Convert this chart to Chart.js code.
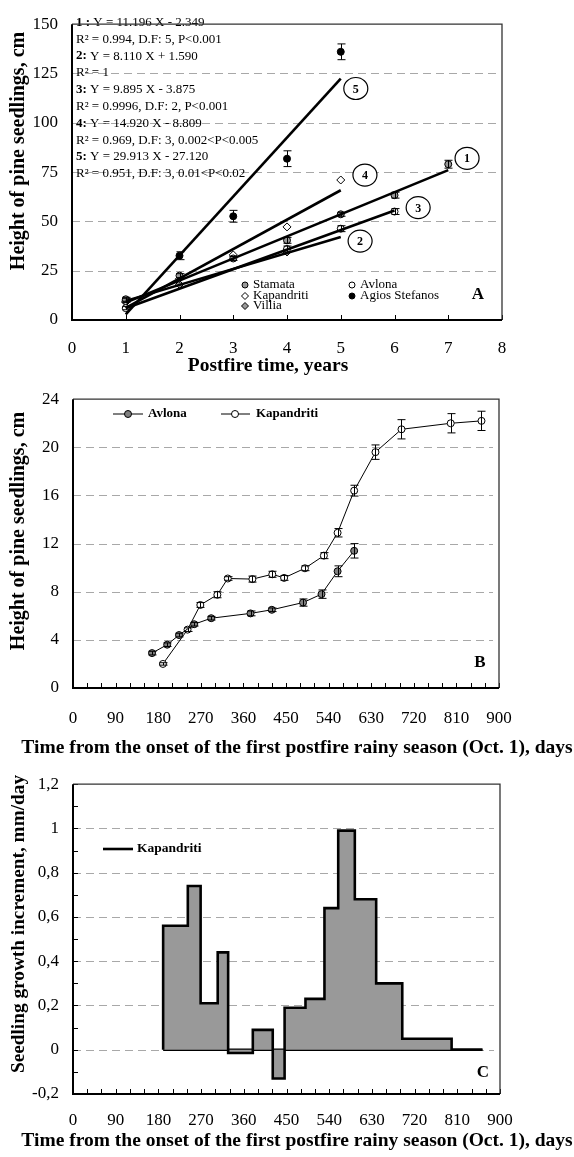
<!DOCTYPE html>
<html>
<head>
<meta charset="utf-8">
<script src="https://cdn.jsdelivr.net/npm/chart.js@4.4.1/dist/chart.umd.min.js"></script>
<style>
  html, body { margin: 0; padding: 0; background: #fff; }
  #wrap { position: relative; width: 574px; height: 1157px; }
  canvas { position: absolute; left: 0; }
</style>
</head>
<body>
<div id="wrap">
  <canvas id="chartA" width="574" height="375" style="top:0"></canvas>
  <canvas id="chartB" width="574" height="385" style="top:375px"></canvas>
  <canvas id="chartC" width="574" height="397" style="top:760px"></canvas>
</div>
<script>
// ---- Panel A: height vs postfire years ----
const yearTicks = [0, 1, 2, 3, 4, 5, 6, 7, 8];
const stamataX = [1, 2, 3, 4, 5, 6, 7];
const stamataY = [10.5, 22.5, 31.2, 40.4, 53.6, 63.3, 79];
const stamataErr = [1, 1, 1, 1.5, 1, 1.5, 2];
const avlonaX = [1, 4, 5, 6];
const avlonaY = [6, 36, 46.3, 55];
const avlonaErr = [0.8, 1.5, 1.5, 1.5];
const kapandritiX = [1, 2, 3, 4, 5];
const kapandritiY = [9.5, 21, 33, 47.2, 71];
const agiosX = [1, 2, 3, 4, 5];
const agiosY = [10, 32.6, 52.6, 81.8, 136];
const agiosErr = [1, 2, 3, 4, 4];
const villiaX = [1, 2, 4];
const villiaY = [9, 18, 34.5];

// regression lines (end points) and their circled labels
const fitIds = ['1', '2', '3', '4', '5'];
const fitX0 = [1, 1, 1, 1, 1];
const fitY0 = [8.8, 9.7, 6.0, 6.1, 2.8];
const fitX1 = [7, 5, 6, 5, 5];
const fitY1 = [76.0, 42.1, 55.5, 65.8, 122.4];
const fitLabelX = [7.35, 5.36, 6.44, 5.45, 5.28];
const fitLabelY = [82, 40, 57, 73.5, 117.4];

const eqBold = ['1 :', '', '2:', '', '3:', '', '4:', '', '5:', ''];
const eqText = [
  ' Y = 11.196 X - 2.349',
  'R\u00b2 = 0.994, D.F: 5, P<0.001',
  ' Y = 8.110 X + 1.590',
  'R\u00b2 = 1',
  ' Y = 9.895 X - 3.875',
  'R\u00b2 = 0.9996, D.F: 2, P<0.001',
  ' Y = 14.920 X - 8.809',
  'R\u00b2 = 0.969, D.F: 3, 0.002<P<0.005',
  ' Y = 29.913 X - 27.120',
  'R\u00b2 = 0.951, D.F: 3, 0.01<P<0.02',
];

// ---- Panel B: height vs days ----
const avlonaDays = [167, 199, 224, 256, 292, 375, 420, 486, 525, 559, 594];
const avlonaH = [2.9, 3.6, 4.4, 5.3, 5.8, 6.2, 6.5, 7.1, 7.8, 9.7, 11.4];
const avlonaHErr = [0.15, 0.15, 0.15, 0.15, 0.15, 0.2, 0.15, 0.3, 0.35, 0.45, 0.6];
const kapDays = [190, 242, 269, 305, 327, 379, 421, 446, 490, 530, 559, 594, 639, 694, 798, 863];
const kapH = [2.0, 4.85, 6.9, 7.75, 9.1, 9.05, 9.45, 9.15, 9.95, 11.0, 12.9, 16.4, 19.6, 21.5, 22.0, 22.2];
const kapHErr = [0.1, 0.15, 0.2, 0.25, 0.15, 0.25, 0.25, 0.2, 0.2, 0.25, 0.35, 0.45, 0.6, 0.8, 0.8, 0.8];

// ---- Panel C: growth increment (step) ----
const incDays = [190, 190, 242, 269, 305, 327, 379, 421, 446, 490, 530, 559, 594, 639, 694, 798, 863];
const incRate = [0, 0.56, 0.74, 0.21, 0.44, -0.015, 0.09, -0.13, 0.19, 0.23, 0.64, 0.99, 0.68, 0.30, 0.05, 0, 0];
const baseDays = [190, 863];
const baseRate = [0, 0];

const SERIF = "'Liberation Serif', 'Times New Roman', serif";
const GRID = '#a8a8a8';

function pts(xs, ys) { return xs.map((x, i) => ({ x, y: ys[i] })); }
function fixSize(size) {
  return (s) => { if (s.isHorizontal()) s.height = size; else s.width = size; };
}
function text(ctx, str, x, y, font, align) {
  ctx.font = font;
  ctx.textAlign = align || 'left';
  ctx.textBaseline = 'middle';
  ctx.fillStyle = '#000';
  ctx.fillText(str, x, y);
}
function vtext(ctx, str, x, y, font) {
  ctx.save();
  ctx.translate(x, y);
  ctx.rotate(-Math.PI / 2);
  text(ctx, str, 0, 0, font, 'center');
  ctx.restore();
}
function marker(ctx, style, x, y, r, fill) {
  ctx.save();
  ctx.beginPath();
  if (style === 'rectRot') {
    ctx.moveTo(x, y - r); ctx.lineTo(x + r, y); ctx.lineTo(x, y + r); ctx.lineTo(x - r, y); ctx.closePath();
  } else {
    ctx.arc(x, y, r, 0, Math.PI * 2);
  }
  ctx.fillStyle = fill; ctx.fill();
  ctx.strokeStyle = '#000'; ctx.lineWidth = 1; ctx.stroke();
  ctx.restore();
}

// dashed grid, box frame, inward tick marks
const framePlugin = {
  id: 'frame',
  beforeDatasetsDraw(chart, args, opts) {
    const { ctx, chartArea: a, scales } = chart;
    ctx.save();
    ctx.strokeStyle = GRID;
    ctx.lineWidth = 1;
    ctx.setLineDash([8, 5]);
    scales.y.ticks.forEach((t) => {
      const k = Math.round(t.value / opts.gridEvery * 1000) / 1000;
      if (Math.abs(k - Math.round(k)) > 1e-6) return;
      if (t.value <= scales.y.min || t.value >= scales.y.max) return;
      const y = Math.round(scales.y.getPixelForValue(t.value)) + 0.5;
      ctx.beginPath(); ctx.moveTo(a.left, y); ctx.lineTo(a.right - 6, y); ctx.stroke();
    });
    ctx.restore();
  },
  afterDatasetsDraw(chart, args, opts) {
    const { ctx, chartArea: a, scales } = chart;
    ctx.save();
    ctx.strokeStyle = '#000';
    ctx.lineWidth = 1;
    scales.x.ticks.forEach((t) => {
      const x = Math.round(scales.x.getPixelForValue(t.value)) + 0.5;
      ctx.beginPath(); ctx.moveTo(x, a.bottom); ctx.lineTo(x, a.bottom - 5); ctx.stroke();
    });
    if (opts.yTicks) {
      scales.y.ticks.forEach((t) => {
        const y = Math.round(scales.y.getPixelForValue(t.value)) + 0.5;
        ctx.beginPath(); ctx.moveTo(a.left, y); ctx.lineTo(a.left + 5, y); ctx.stroke();
      });
    }
    ctx.strokeStyle = '#333';
    ctx.lineWidth = 1.3;
    ctx.beginPath();
    ctx.moveTo(a.left, a.top); ctx.lineTo(a.right, a.top); ctx.lineTo(a.right, a.bottom);
    ctx.stroke();
    ctx.strokeStyle = '#000';
    ctx.lineWidth = 2;
    ctx.beginPath();
    ctx.moveTo(a.left, a.top); ctx.lineTo(a.left, a.bottom); ctx.lineTo(a.right, a.bottom);
    ctx.stroke();
    ctx.restore();
  },
};

// vertical error bars from dataset.errorBars
const errorBarPlugin = {
  id: 'errorBars',
  afterDatasetsDraw(chart) {
    const { ctx, scales } = chart;
    ctx.save();
    ctx.strokeStyle = '#000';
    ctx.lineWidth = 1;
    chart.data.datasets.forEach((ds, i) => {
      if (!ds.errorBars) return;
      const meta = chart.getDatasetMeta(i);
      meta.data.forEach((el, j) => {
        const e = ds.errorBars[j];
        if (!e) return;
        const v = ds.data[j].y;
        const y1 = scales.y.getPixelForValue(v + e);
        const y2 = scales.y.getPixelForValue(v - e);
        const x = Math.round(el.x) + 0.5;
        ctx.beginPath();
        ctx.moveTo(x, y1); ctx.lineTo(x, y2);
        ctx.moveTo(x - 4, y1); ctx.lineTo(x + 4, y1);
        ctx.moveTo(x - 4, y2); ctx.lineTo(x + 4, y2);
        ctx.stroke();
      });
    });
    ctx.restore();
  },
};

function tickFont(size) { return { family: SERIF, size: size }; }
const noGrid = { display: false, drawTicks: false };

// ---------- Chart A ----------
const fitSets = fitIds.map((id, i) => ({
  label: 'fit ' + id,
  data: [{ x: fitX0[i], y: fitY0[i] }, { x: fitX1[i], y: fitY1[i] }],
  showLine: true,
  borderColor: '#000',
  borderWidth: 2.6,
  pointRadius: 0,
  order: 0,
}));

new Chart(document.getElementById('chartA'), {
  type: 'scatter',
  data: {
    datasets: [
      { label: 'Stamata', data: pts(stamataX, stamataY), errorBars: stamataErr,
        pointStyle: 'circle', pointRadius: 3.5, backgroundColor: '#999', borderColor: '#000', borderWidth: 1, order: 1 },
      { label: 'Avlona', data: pts(avlonaX, avlonaY), errorBars: avlonaErr,
        pointStyle: 'circle', pointRadius: 3.5, backgroundColor: '#fff', borderColor: '#000', borderWidth: 1, order: 1 },
      { label: 'Kapandriti', data: pts(kapandritiX, kapandritiY),
        pointStyle: 'rectRot', pointRadius: 4, backgroundColor: '#fff', borderColor: '#000', borderWidth: 1, order: 1 },
      { label: 'Agios Stefanos', data: pts(agiosX, agiosY), errorBars: agiosErr,
        pointStyle: 'circle', pointRadius: 3.5, backgroundColor: '#000', borderColor: '#000', borderWidth: 1, order: 1 },
      { label: 'Villia', data: pts(villiaX, villiaY),
        pointStyle: 'rectRot', pointRadius: 4, backgroundColor: '#999', borderColor: '#000', borderWidth: 1, order: 1 },
      ...fitSets,
    ],
  },
  options: {
    responsive: false,
    animation: false,
    layout: { padding: { top: 12, right: 72, left: 0, bottom: 0 } },
    scales: {
      x: {
        type: 'linear', min: 0, max: 8,
        afterBuildTicks: (s) => { s.ticks = yearTicks.map((v) => ({ value: v })); },
        ticks: { font: tickFont(17), color: '#000', padding: 18, maxRotation: 0, autoSkip: false },
        grid: noGrid, border: { display: false },
        afterFit: fixSize(55),
      },
      y: {
        min: 0, max: 150,
        ticks: { stepSize: 25, font: tickFont(17), color: '#000', padding: 14 },
        grid: noGrid, border: { display: false },
        afterFit: fixSize(72),
      },
    },
    plugins: {
      legend: { display: false },
      tooltip: { enabled: false },
      frame: { gridEvery: 25, yTicks: false },
    },
  },
  plugins: [framePlugin, errorBarPlugin, {
    id: 'panelA',
    beforeDatasetsDraw(chart) {
      const ctx = chart.ctx;
      eqText.forEach((t, i) => {
        const y = 22.5 + i * 16.8;
        let x = 76;
        if (eqBold[i]) {
          text(ctx, eqBold[i], x, y, 'bold 13px ' + SERIF);
          x += ctx.measureText(eqBold[i]).width;
        }
        text(ctx, t, x, y, '13px ' + SERIF);
      });
    },
    afterDraw(chart) {
      const { ctx, scales } = chart;
      fitIds.forEach((id, i) => {
        const cx = scales.x.getPixelForValue(fitLabelX[i]);
        const cy = scales.y.getPixelForValue(fitLabelY[i]);
        ctx.save();
        ctx.beginPath();
        ctx.ellipse(cx, cy, 12, 11, 0, 0, Math.PI * 2);
        ctx.fillStyle = '#fff'; ctx.fill();
        ctx.strokeStyle = '#000'; ctx.lineWidth = 1.2; ctx.stroke();
        ctx.restore();
        text(ctx, id, cx, cy + 1, 'bold 12px ' + SERIF, 'center');
      });
      // legend
      const ds = chart.data.datasets;
      const cells = [[0, 245, 285], [2, 245, 296], [4, 245, 306], [1, 352, 285], [3, 352, 296]];
      cells.forEach(([k, x, y]) => {
        marker(ctx, ds[k].pointStyle, x, y, ds[k].pointStyle === 'rectRot' ? 3.5 : 3, ds[k].backgroundColor);
        text(ctx, ds[k].label, x + 8, y, '13px ' + SERIF);
      });
      text(ctx, 'A', 478, 295, 'bold 17px ' + SERIF, 'center');
      text(ctx, 'Postfire time, years', 268, 366, 'bold 19.5px ' + SERIF, 'center');
      vtext(ctx, 'Height of pine seedlings, cm', 19, 151, 'bold 20px ' + SERIF);
    },
  }],
});

// ---------- Chart B ----------
const dayTickCb = (v) => (v % 90 === 0 ? String(v) : '');

new Chart(document.getElementById('chartB'), {
  type: 'scatter',
  data: {
    datasets: [
      { label: 'Avlona', data: pts(avlonaDays, avlonaH), errorBars: avlonaHErr, showLine: true,
        borderColor: '#000', borderWidth: 1, pointRadius: 3.5, pointBackgroundColor: '#808080',
        pointBorderColor: '#000', pointBorderWidth: 1 },
      { label: 'Kapandriti', data: pts(kapDays, kapH), errorBars: kapHErr, showLine: true,
        borderColor: '#000', borderWidth: 1, pointRadius: 3.5, pointBackgroundColor: '#fff',
        pointBorderColor: '#000', pointBorderWidth: 1 },
    ],
  },
  options: {
    responsive: false,
    animation: false,
    layout: { padding: { top: 7, right: 75, left: 0, bottom: 0 } },
    scales: {
      x: {
        type: 'linear', min: 0, max: 900,
        ticks: { stepSize: 30, callback: dayTickCb, font: tickFont(17), color: '#000', padding: 20, maxRotation: 0, autoSkip: false },
        grid: noGrid, border: { display: false },
        afterFit: fixSize(72),
      },
      y: {
        min: 0, max: 24,
        ticks: { stepSize: 4, font: tickFont(17), color: '#000', padding: 14 },
        grid: noGrid, border: { display: false },
        afterFit: fixSize(73),
      },
    },
    plugins: {
      legend: { display: false },
      tooltip: { enabled: false },
      frame: { gridEvery: 4, yTicks: false },
    },
  },
  plugins: [framePlugin, errorBarPlugin, {
    id: 'panelB',
    afterDraw(chart) {
      const ctx = chart.ctx;
      const ds = chart.data.datasets;
      [[0, 113, 143, 128, 148], [1, 221, 250, 235, 256]].forEach(([k, x1, x2, mx, tx]) => {
        ctx.save();
        ctx.strokeStyle = '#000'; ctx.lineWidth = 1;
        ctx.beginPath(); ctx.moveTo(x1, 39); ctx.lineTo(x2, 39); ctx.stroke();
        ctx.restore();
        marker(ctx, 'circle', mx, 39, 3.5, ds[k].pointBackgroundColor);
        text(ctx, ds[k].label, tx, 39, 'bold 13px ' + SERIF);
      });
      text(ctx, 'B', 480, 288, 'bold 17px ' + SERIF, 'center');
      text(ctx, 'Time from the onset of the first postfire rainy season (Oct. 1), days', 297, 373, 'bold 19.5px ' + SERIF, 'center');
      vtext(ctx, 'Height of pine seedlings, cm', 19, 156, 'bold 20px ' + SERIF);
    },
  }],
});

// ---------- Chart C ----------
new Chart(document.getElementById('chartC'), {
  type: 'scatter',
  data: {
    datasets: [
      { label: 'Kapandriti', data: pts(incDays, incRate), showLine: true, stepped: 'before',
        borderColor: '#000', borderWidth: 2.6, backgroundColor: '#999999',
        fill: { value: 0 }, pointRadius: 0 },
      { label: 'base', data: pts(baseDays, baseRate), showLine: true,
        borderColor: '#000', borderWidth: 2.6, pointRadius: 0 },
    ],
  },
  options: {
    responsive: false,
    animation: false,
    layout: { padding: { top: 23, right: 74, left: 0, bottom: 0 } },
    scales: {
      x: {
        type: 'linear', min: 0, max: 900,
        ticks: { stepSize: 30, callback: dayTickCb, font: tickFont(17), color: '#000', padding: 16, maxRotation: 0, autoSkip: false },
        grid: noGrid, border: { display: false },
        afterFit: fixSize(63),
      },
      y: {
        min: -0.2, max: 1.2,
        ticks: {
          stepSize: 0.1, autoSkip: false, font: tickFont(17), color: '#000', padding: 14,
          callback: (v) => {
            const k = Math.round(v * 10);
            return k % 2 === 0 ? String(k / 10).replace('.', ',') : '';
          },
        },
        grid: noGrid, border: { display: false },
        afterFit: fixSize(73),
      },
    },
    plugins: {
      legend: { display: false },
      tooltip: { enabled: false },
      filler: { propagate: false },
      frame: { gridEvery: 0.2, yTicks: true },
    },
  },
  plugins: [framePlugin, {
    id: 'panelC',
    afterDraw(chart) {
      const ctx = chart.ctx;
      ctx.save();
      ctx.strokeStyle = '#000'; ctx.lineWidth = 2.6;
      ctx.beginPath(); ctx.moveTo(103, 89); ctx.lineTo(133, 89); ctx.stroke();
      ctx.restore();
      text(ctx, chart.data.datasets[0].label, 137, 89, 'bold 13.5px ' + SERIF);
      text(ctx, 'C', 483, 313, 'bold 17px ' + SERIF, 'center');
      text(ctx, 'Time from the onset of the first postfire rainy season (Oct. 1), days', 297, 381, 'bold 19.5px ' + SERIF, 'center');
      vtext(ctx, 'Seedling growth increment, mm/day', 19, 164, 'bold 19.3px ' + SERIF);
    },
  }],
});
</script>
</body>
</html>
